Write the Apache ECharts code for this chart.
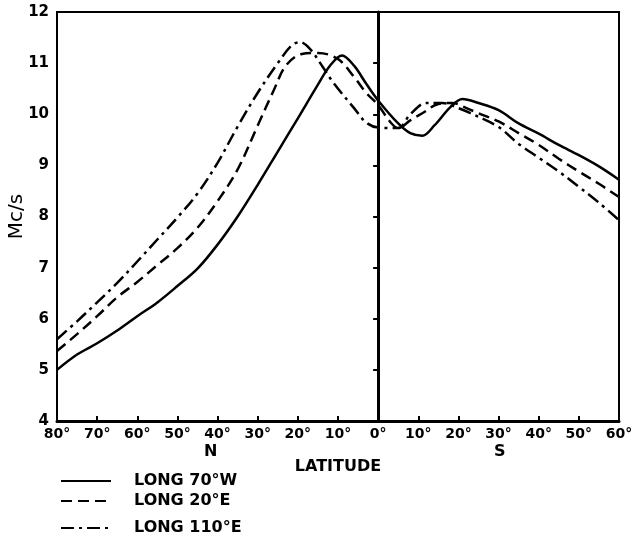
<!DOCTYPE html>
<html>
<head>
<meta charset="utf-8">
<script src="https://cdn.jsdelivr.net/npm/echarts@6/dist/echarts.min.js"></script>
<style>
  html, body { margin: 0; padding: 0; background: #fff; }
  #chart { width: 636px; height: 538px; }
</style>
</head>
<body>
<div id="chart"></div>
<script>
// latitude: negative = north, positive = south
const long70W = [
  [-80, 5.0], [-75, 5.3], [-70, 5.52], [-65, 5.77], [-60, 6.05], [-55, 6.32],
  [-50, 6.64], [-45, 6.98], [-40, 7.45], [-35, 8.0], [-30, 8.62], [-25, 9.27],
  [-20, 9.92], [-15, 10.58], [-12, 10.95], [-9, 11.15], [-6, 10.95], [-3, 10.6],
  [0, 10.27], [5, 9.82], [8, 9.63], [11, 9.58], [14, 9.78], [18, 10.14],
  [21, 10.3], [25, 10.22], [30, 10.08], [35, 9.82], [40, 9.62], [45, 9.4],
  [50, 9.2], [55, 8.98], [60, 8.72]
];
const long20E = [
  [-80, 5.37], [-75, 5.7], [-70, 6.05], [-65, 6.42], [-60, 6.72], [-55, 7.05],
  [-50, 7.38], [-45, 7.78], [-40, 8.3], [-35, 8.92], [-30, 9.78], [-26, 10.47],
  [-23, 10.95], [-19, 11.18], [-15, 11.2], [-10, 11.08], [-6, 10.73], [-3, 10.42],
  [0, 10.18], [3, 9.85], [5, 9.73], [8, 9.88], [11, 10.02], [15, 10.2],
  [18.5, 10.22], [22, 10.12], [25, 10.02], [30, 9.86], [35, 9.63], [40, 9.4],
  [45, 9.13], [50, 8.88], [55, 8.64], [60, 8.38]
];
const long110E = [
  [-80, 5.6], [-75, 5.95], [-70, 6.32], [-65, 6.7], [-60, 7.12], [-55, 7.55],
  [-50, 7.98], [-45, 8.45], [-40, 9.05], [-35, 9.76], [-30, 10.42], [-25, 11.0],
  [-21.5, 11.35], [-19.5, 11.41], [-17, 11.28], [-14, 10.95], [-11, 10.6], [-6, 10.12],
  [-3, 9.84], [0, 9.74], [5, 9.73], [8, 10.0], [12, 10.22], [16, 10.22], [20, 10.12],
  [23, 10.02], [30, 9.75], [35, 9.42], [40, 9.15], [45, 8.88], [50, 8.58],
  [55, 8.27], [60, 7.93]
];
const seriesNames = ["LONG 70°W", "LONG 20°E", "LONG 110°E"];

const chart = echarts.init(document.getElementById("chart"));
const font = "DejaVu Sans";

const lineSeries = (name, data, type) => ({
  name: name,
  type: "line",
  data: data,
  smooth: 0.35,
  symbol: "none",
  lineStyle: { color: "#000", width: 2.5, type: type },
  itemStyle: { color: "#000" }
});

const first = lineSeries(seriesNames[0], long70W, "solid");
// the equator line
first.markLine = {
  silent: true,
  symbol: "none",
  label: { show: false },
  lineStyle: { color: "#000", width: 2, type: "solid" },
  data: [{ xAxis: 0 }]
};

// one legend per row so the rows sit where the original has them
const legendRow = (name, top) => ({
  left: 55, top: top,
  itemWidth: 50, itemHeight: 14,
  itemStyle: { opacity: 0 },
  textStyle: { fontFamily: font, fontWeight: "bold", fontSize: 16, color: "#000", padding: [0, 0, 0, 18] },
  data: [name]
});

const option = {
  animation: false,
  textStyle: { fontFamily: font },
  grid: {
    left: 57, right: 17, top: 12, bottom: 117,
    outerBoundsMode: "none",
    containLabel: false,
    show: true, borderColor: "#000", borderWidth: 2
  },
  legend: [
    legendRow(seriesNames[0], 468),
    legendRow(seriesNames[1], 488),
    legendRow(seriesNames[2], 515)
  ],
  xAxis: {
    type: "value",
    min: -80, max: 60, interval: 10,
    name: "LATITUDE",
    nameLocation: "middle",
    nameGap: 38,
    nameMoveOverlap: false,
    nameTextStyle: { fontFamily: font, fontWeight: "bold", fontSize: 16, color: "#000" },
    axisLine: { lineStyle: { color: "#000", width: 3 } },
    axisTick: { inside: true, length: 5, lineStyle: { color: "#000", width: 2 } },
    axisLabel: {
      color: "#000", fontWeight: "bold", fontSize: 14, margin: 6,
      formatter: v => Math.abs(v) + "°"
    },
    splitLine: { show: false }
  },
  yAxis: {
    type: "value",
    min: 4, max: 12, interval: 1,
    name: "Mc/s",
    nameLocation: "middle",
    nameGap: 30,
    nameMoveOverlap: false,
    nameTextStyle: { fontFamily: font, fontSize: 20, color: "#000" },
    axisLine: { lineStyle: { color: "#000", width: 3 } },
    axisTick: { length: 5, lineStyle: { color: "#000", width: 2 } },
    axisLabel: { color: "#000", fontWeight: "bold", fontSize: 15, margin: 8 },
    splitLine: { show: false }
  },
  graphic: [
    { type: "text", left: 204, top: 444, style: { text: "N", font: "bold 16px " + font, fill: "#000" } },
    { type: "text", left: 494, top: 444, style: { text: "S", font: "bold 16px " + font, fill: "#000" } }
  ],
  series: [
    first,
    lineSeries(seriesNames[1], long20E, [11, 6]),
    lineSeries(seriesNames[2], long110E, [13, 5, 3, 5])
  ]
};

chart.setOption(option);
</script>
</body>
</html>
